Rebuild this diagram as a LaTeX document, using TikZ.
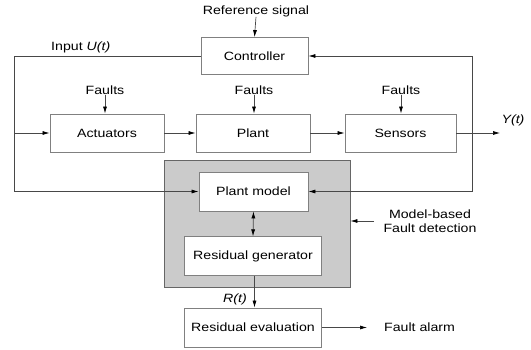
\documentclass[tikz,border=0pt]{standalone}
\usepackage{fontspec}
\setmainfont{Liberation Sans}[FakeStretch=1.18]
\usetikzlibrary{arrows.meta}
\definecolor{boxline}{HTML}{808080}
\definecolor{wire}{HTML}{484848}
\definecolor{panel}{HTML}{CBCBCB}
\begin{document}
\begin{tikzpicture}[x=1pt,y=-1pt,
  font=\fontsize{12}{14}\selectfont,
  blk/.style={draw=boxline,fill=white,line width=0.8pt,minimum height=38pt,inner sep=0pt},
  lbl/.style={inner sep=0pt},
  wire/.style={draw=wire,line width=0.7pt},
  arr/.style={wire,-{Latex[length=7pt,width=4pt,black]}},
  darr/.style={wire,{Latex[length=7pt,width=4pt,black]}-{Latex[length=7pt,width=4pt,black]}}]
\useasboundingbox (0,0) rectangle (531,349);
% panel
\node[draw=boxline!80!black,fill=panel,line width=0.8pt,minimum width=186pt,minimum height=127pt,inner sep=0pt] (panel) at (257,223.5) {};
% blocks
\node[blk,minimum width=107pt,minimum height=37pt] (ctrl) at (254.5,56) {Controller};
\node[blk,minimum width=114pt] (act) at (107,133) {Actuators};
\node[blk,minimum width=114pt] (plant) at (253,133) {Plant};
\node[blk,minimum width=111pt] (sens) at (400.5,133) {Sensors};
\node[blk,minimum width=109pt,minimum height=39pt] (pm) at (253.5,191.5) {Plant model};
\node[blk,minimum width=137pt,minimum height=38.5pt] (rg) at (253,256) {Residual generator};
\node[blk,minimum width=137pt,minimum height=39pt] (re) at (253,327.5) {Residual evaluation};
% labels
\node[lbl] (ref) at (256,11) {Reference signal};
\node[lbl,anchor=west] (inp) at (51,47) {Input \textit{U(t)}};
\node[lbl] (f1) at (105,90.5) {Faults};
\node[lbl] (f2) at (254,90.5) {Faults};
\node[lbl] (f3) at (401,90.5) {Faults};
\node[lbl] (yt) at (513,120) {\textit{Y(t)}};
\node[lbl] (rt) at (235,299) {\textit{R(t)}};
\node[lbl,anchor=west] (alarm) at (384,327.5) {Fault alarm};
\node[lbl,align=center] (mb) at (430,221) {Model-based\\Fault detection};
% coordinates
\coordinate (lx) at (14,133);
\coordinate (rx) at (472,133);
\coordinate (yend) at (500,133);
\coordinate (alend) at (367,327.5);
\coordinate (mbs) at (374,221);
\coordinate (rtx) at (254.5,0);
% connectors
\draw[arr] (ref.south) -- (ctrl.north);
\draw[wire] (ctrl.west) -| (lx);
\draw[arr] (lx) |- (pm.west);
\draw[arr] (lx) -- (act.west);
\draw[arr] (act) -- (plant);
\draw[arr] (plant) -- (sens);
\draw[arr] (sens.east) -- (yend);
\draw[arr] (rx) |- (ctrl.east);
\draw[arr] (rx) |- (pm.east);
\draw[arr] (f1.south) -- (f1.south |- act.north);
\draw[arr] (f2.south) -- (f2.south |- plant.north);
\draw[arr] (f3.south) -- (f3.south |- sens.north);
\draw[darr] (pm.south) -- (rg.north);
\draw[arr] (rg.south -| rtx) -- (re.north -| rtx);
\draw[arr] (re.east) -- (alend);
\draw[arr] (mbs) -- (mbs -| panel.east);
\end{tikzpicture}
\end{document}
